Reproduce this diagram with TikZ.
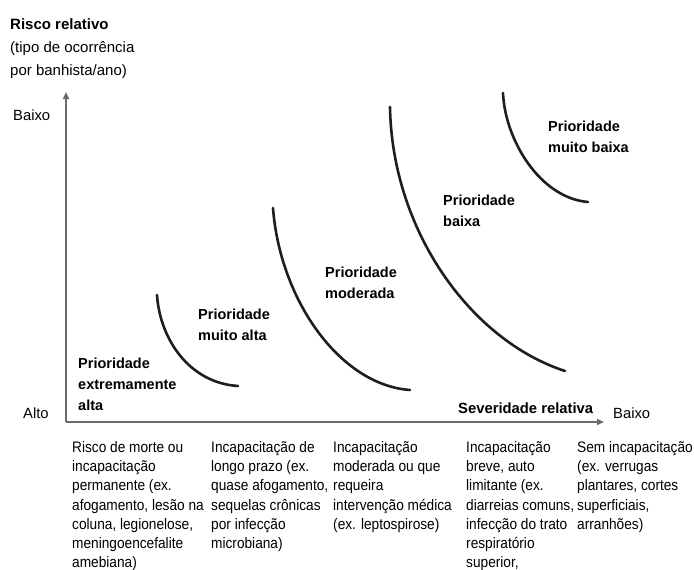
\documentclass[tikz,border=0pt]{standalone}
\usepackage{fontspec}
\setmainfont{Liberation Sans}
\newfontfamily\condfont[FakeStretch=0.9]{Liberation Sans}
\usetikzlibrary{arrows.meta}
\definecolor{axisgray}{HTML}{6A6A6A}
\definecolor{curvecol}{HTML}{1E1E1E}
\tikzset{
  txt/.style={anchor=north west, inner sep=0pt, align=left, font=\condfont\fontsize{15.2}{19.3}\selectfont},
  one/.style={anchor=base west, inner sep=0pt, font=\fontsize{14.8}{19.3}\selectfont},
  ttl/.style={anchor=north west, inner sep=0pt, align=left, font=\fontsize{15}{23}\selectfont},
  prio/.style={anchor=north west, inner sep=0pt, align=left, font=\fontsize{14.5}{21}\selectfont\bfseries},
  xttl/.style={anchor=base west, inner sep=0pt, font=\fontsize{14.8}{21}\selectfont\bfseries},
  axisline/.style={draw=axisgray, line width=2.4pt, -{Triangle[length=7pt,width=6pt]}},
  curveline/.style={draw=curvecol, line width=2.6pt, line cap=round}
}
\begin{document}
\begin{tikzpicture}[x=1pt,y=-1pt]
\useasboundingbox (0,0) rectangle (694,570);
% axes
\coordinate (origin) at (66,422);
\coordinate (ytip) at (66,92);
\coordinate (xtip) at (604,422);
\draw[axisline] (origin) -- (ytip);
\draw[axisline] (origin) -- (xtip);
% axis titles
\node[ttl] (ytitle) at (10,18.2) {\textbf{Risco relativo}\\(tipo de ocorrência\\por banhista/ano)};
\node[one] (ylow) at (13,120) {Baixo};
\node[one] (alto) at (23,418) {Alto};
\node[one] (xlow) at (613,418) {Baixo};
\node[xttl] (xtitle) at (458,413) {Severidade relativa};
% curves
\coordinate (c1a) at (157,295); \coordinate (c1b) at (238,386);
\coordinate (c2a) at (273,208); \coordinate (c2b) at (410,390);
\coordinate (c3a) at (390,107); \coordinate (c3b) at (565,371);
\coordinate (c4a) at (503,93);  \coordinate (c4b) at (588,202);
\draw[curveline] (c1a) .. controls (160,340) and (190,383) .. (c1b);
\draw[curveline] (c2a) .. controls (280,300) and (340,385) .. (c2b);
\draw[curveline] (c3a) .. controls (392,230) and (470,340) .. (c3b);
\draw[curveline] (c4a) .. controls (505,140) and (540,198) .. (c4b);
% priority labels
\node[prio] (p1) at (78,357.4) {Prioridade\\extremamente\\alta};
\node[prio] (p2) at (198,308.4) {Prioridade\\muito alta};
\node[prio] (p3) at (325,266.4) {Prioridade\\moderada};
\node[prio] (p4) at (443,194.4) {Prioridade\\baixa};
\node[prio] (p5) at (548,120.4) {Prioridade\\muito baixa};
% severity descriptions
\node[txt] (s1) at (72,440.9) {Risco de morte ou\\incapacitação\\permanente (ex.\\afogamento, lesão na\\coluna, legionelose,\\meningoencefalite\\amebiana)};
\node[txt] (s2) at (211,440.9) {Incapacitação de\\longo prazo (ex.\\quase afogamento,\\sequelas crônicas\\por infecção\\microbiana)};
\node[txt] (s3) at (333,440.9) {Incapacitação\\moderada ou que\\requeira\\intervenção médica\\(ex. leptospirose)};
\node[txt] (s4) at (466,440.9) {Incapacitação\\breve, auto\\limitante (ex.\\diarreias comuns,\\infecção do trato\\respiratório\\superior,};
\node[txt] (s5) at (577,440.9) {Sem incapacitação\\(ex. verrugas\\plantares, cortes\\superficiais,\\arranhões)};
\end{tikzpicture}
\end{document}
